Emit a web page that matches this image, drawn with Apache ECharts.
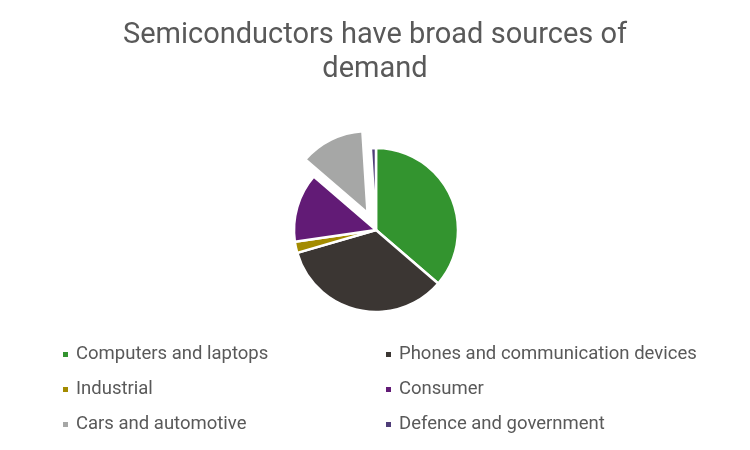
<!DOCTYPE html>
<html>
<head>
<meta charset="utf-8">
<script src="https://cdn.jsdelivr.net/npm/echarts@6/dist/echarts.min.js"></script>
<style>html,body{margin:0;padding:0;background:#fff}#c{width:750px;height:450px}</style>
</head>
<body>
<div id="c"></div>
<script>
const categories = ["Computers and laptops", "Phones and communication devices", "Industrial", "Consumer", "Cars and automotive", "Defence and government"];
const values = [36.3, 34.2, 2.2, 13.6, 12.7, 1.0];
const colors = ["#33942f", "#3b3633", "#a38b00", "#621b76", "#a6a7a6", "#4f3d78"];
const exploded = ["Cars and automotive"];
const leftLegend = ["Computers and laptops", "Industrial", "Cars and automotive"];
const rightLegend = ["Phones and communication devices", "Consumer", "Defence and government"];

const chart = echarts.init(document.getElementById('c'));
const legendCommon = {
  orient: 'vertical',
  icon: 'rect',
  itemWidth: 7,
  itemHeight: 7,
  itemGap: 16,
  top: 340,
  textStyle: { fontFamily: 'Roboto', fontSize: 18.5, color: '#595959', padding: [0, 0, 0, 2] }
};
chart.setOption({
  animation: false,
  title: {
    text: 'Semiconductors have broad sources of\ndemand',
    left: 'center',
    top: 14,
    textStyle: { fontFamily: 'Roboto', fontSize: 29, fontWeight: 'normal', color: '#595959', lineHeight: 34 }
  },
  legend: [
    Object.assign({}, legendCommon, { left: 56, data: leftLegend }),
    Object.assign({}, legendCommon, { left: 379, data: rightLegend })
  ],
  series: [{
    type: 'pie',
    center: [376, 230],
    radius: 82,
    startAngle: 90,
    clockwise: true,
    selectedMode: 'multiple',
    selectedOffset: 19,
    label: { show: false },
    labelLine: { show: false },
    emphasis: { disabled: true },
    itemStyle: { borderColor: '#fff', borderWidth: 2.5 },
    data: categories.map((n, i) => ({
      name: n,
      value: values[i],
      selected: exploded.includes(n),
      itemStyle: { color: colors[i] }
    }))
  }]
});
</script>
</body>
</html>
